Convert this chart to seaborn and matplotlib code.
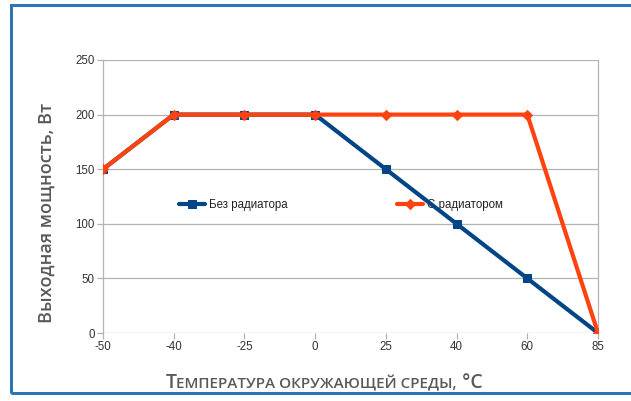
import matplotlib
matplotlib.use("Agg")
import matplotlib.pyplot as plt
import seaborn as sns
import pandas as pd
from matplotlib.patches import Rectangle
from matplotlib.offsetbox import TextArea, HPacker, AnnotationBbox

categories = ["-50", "-40", "-25", "0", "25", "40", "60", "85"]
no_radiator = [150, 200, 200, 200, 150, 100, 50, 0]
with_radiator = [150, 200, 200, 200, 200, 200, 200, 0]
series_names = ["Без радиатора", "С радиатором"]
y_ticks = [0, 50, 100, 150, 200, 250]

sns.set_theme(style="white")
plt.rcParams['font.family'] = ['Liberation Sans', 'DejaVu Sans']

fig = plt.figure(figsize=(6.31, 4.01), dpi=100)
ax = fig.add_axes([103/631, 1-333/401, (598-103)/631, (333-60)/401])

df = pd.DataFrame({
    "x": categories * 2,
    "y": no_radiator + with_radiator,
    "series": [series_names[0]] * len(categories) + [series_names[1]] * len(categories),
})

blue = "#004586"
orange = "#ff420e"
sns.lineplot(data=df[df.series == series_names[0]], x="x", y="y", ax=ax, color=blue,
             marker="s", markersize=6.2, markeredgecolor=blue, linewidth=3,
             label=series_names[0], sort=False, zorder=3)
sns.lineplot(data=df[df.series == series_names[1]], x="x", y="y", ax=ax, color=orange,
             marker="D", markersize=5, markeredgecolor=orange, linewidth=3,
             label=series_names[1], sort=False, zorder=4)

ax.set_xlim(0, len(categories) - 1)
ax.set_ylim(0, 250)
ax.set_yticks(y_ticks)
ax.set_yticklabels([str(v) for v in y_ticks])
ax.set_xticks(range(len(categories)))
ax.set_xticklabels(categories)
ax.grid(axis="y", color="#b3b3b3", linewidth=0.9)
ax.grid(axis="x", visible=False)
ax.set_axisbelow(True)
for s in ["left", "right"]:
    ax.spines[s].set_visible(True)
    ax.spines[s].set_color("#b3b3b3")
    ax.spines[s].set_linewidth(0.9)
for s in ["top", "bottom"]:
    ax.spines[s].set_visible(False)
ax.tick_params(axis="both", which="both", length=4, width=0.9, color="#b3b3b3",
               labelsize=8.3, labelcolor="#333333", pad=2,
               bottom=True, left=True)

ax.set_xlabel("")
ax.set_ylabel("Выходная мощность, Вт", fontsize=13, color="#595959",
              family=["Open Sans", "DejaVu Sans"], fontweight=600)
ax.yaxis.set_label_coords(-0.095, 0.44)

leg = ax.legend(loc="center", bbox_to_anchor=(0.48, 0.47), ncol=2, frameon=False,
                fontsize=8.3, columnspacing=9.5, handlelength=2.3, handletextpad=0.3)
leg.set_zorder(1)
for t in leg.get_texts():
    t.set_color("#222222")

# x label in small-caps style
big = dict(fontsize=14, color="#595959", family=["Open Sans", "DejaVu Sans"], fontweight=600)
small = dict(fontsize=11, color="#595959", family=["Open Sans", "DejaVu Sans"], fontweight=600)
parts = [
    TextArea("Т", textprops=big),
    TextArea("ЕМПЕРАТУРА ОКРУЖАЮЩЕЙ СРЕДЫ,", textprops=small),
    TextArea(" °С", textprops=big),
]
packer = HPacker(children=parts, align="baseline", pad=0, sep=0)
ab = AnnotationBbox(packer, (324/631, 1-393/401), xycoords="figure fraction",
                    frameon=False, box_alignment=(0.5, 0))
fig.add_artist(ab)

# blue frame
fig.add_artist(Rectangle((11/631, 1-393/401), 0.99, (393-5)/401, transform=fig.transFigure,
                         fill=False, edgecolor="#2e75b6", linewidth=2.2))

fig.savefig("out.png", dpi=100)
